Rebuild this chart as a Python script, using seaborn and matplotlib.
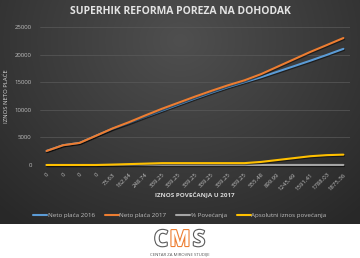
import numpy as np
import pandas as pd
import matplotlib
matplotlib.use("Agg")
import matplotlib.pyplot as plt
import matplotlib.patheffects as pe
import seaborn as sns
from matplotlib.lines import Line2D

# ---- data ----
x_labels = ["0", "0", "0", "0", "73.63", "162.84", "248.74", "339.25", "339.25",
            "339.25", "339.25", "339.25", "339.25", "555.48", "899.99", "1245.49",
            "1591.41", "1788.03", "1875.36"]
neto_2016 = [2545, 3580, 4000, 5300, 6550, 7600, 8750, 9850, 10950, 12050,
             13100, 14100, 15000, 15900, 16900, 17900, 18900, 19950, 21040]
neto_2017 = [2545, 3580, 4000, 5300, 6624, 7763, 8999, 10189, 11289, 12389,
             13439, 14439, 15339, 16455, 17800, 19145, 20491, 21738, 23000]
pct_increase = [0, 0, 0, 0, 1.1, 2.1, 2.8, 3.4, 3.1, 2.8, 2.6, 2.4, 2.3, 3.5,
                5.3, 7.0, 8.4, 9.0, 8.9]
abs_increase = [0, 0, 0, 0, 73.63, 162.84, 248.74, 339.25, 339.25, 339.25, 339.25,
                339.25, 339.25, 555.48, 899.99, 1245.49, 1591.41, 1788.03, 1875.36]
series_names = ["Neto plaća 2016", "Neto plaća 2017", "% Povećanja",
                "Apsolutni iznos povećanja"]
colors = ["#5b9bd5", "#ed7d31", "#a5a5a5", "#ffc000"]

idx = list(range(len(x_labels)))
df = pd.concat([
    pd.DataFrame({"i": idx, "v": vals, "s": name})
    for name, vals in zip(series_names, [neto_2016, neto_2017, pct_increase, abs_increase])
])

sns.set_style("white")
plt.rcParams["font.family"] = ["Open Sans", "DejaVu Sans"]

W, H = 360, 258
fig = plt.figure(figsize=(W / 100, H / 100), dpi=100)
fig.patch.set_facecolor("white")

# background gradient (dark chart area)
bg = fig.add_axes([0, 1 - 224 / H, 1, 224 / H])
yy, xx = np.mgrid[0:224, 0:360]
d = np.sqrt(((xx - 180) / 260.0) ** 2 + ((yy - 40) / 230.0) ** 2)
val = 0.31 - 0.15 * np.clip(d, 0, 1)
img = np.dstack([val, val, val])
bg.imshow(img, aspect="auto", extent=[0, 1, 0, 1], origin="upper")
bg.set_axis_off()

ax = fig.add_axes([40 / W, 1 - 165 / H, 310 / W, 138 / H])
ax.patch.set_alpha(0)
sns.lineplot(data=df, x="i", y="v", hue="s", palette=colors, hue_order=series_names,
             linewidth=1.5, ax=ax, legend=False)
for ln in ax.get_lines():
    ln.set_clip_on(False)
    ln.set_path_effects([pe.SimpleLineShadow(offset=(0.5, -0.8), shadow_color="black", alpha=0.5),
                         pe.Normal()])
lines = ax.get_lines()
lines[3].set_zorder(5)

ax.set_xlim(-0.4, 18.4)
ax.set_ylim(0, 25000)
ax.set_yticks(range(0, 25001, 5000))
ax.set_xticks(idx)
ax.set_xticklabels(x_labels, rotation=45, ha="right", rotation_mode="anchor",
                   fontsize=4.3, color="#bfbfbf")
ax.tick_params(axis="y", labelsize=4.3, labelcolor="#bfbfbf", length=0, pad=6)
ax.tick_params(axis="x", length=0, pad=5)
ax.grid(axis="y", color="#5a5a5a", linewidth=0.5)
ax.grid(axis="x", visible=False)
for s in ax.spines.values():
    s.set_visible(False)
ax.set_xlabel("IZNOS POVEĆANJA U 2017", fontsize=4.5, color="#d9d9d9",
              fontweight="bold")
ax.set_ylabel("IZNOS NETO PLAĆE", fontsize=4.2, color="#d9d9d9")
ax.xaxis.set_label_coords(0.5, -0.19)
ax.yaxis.set_label_coords(-0.1, 0.5)

fig.text(0.5, 1 - 12 / H, "SUPERHIK REFORMA POREZA NA DOHODAK",
         ha="center", va="center", fontsize=7.5, fontweight="bold", color="#e3e3e3")

# legend
handles = [Line2D([0], [0], color=c, lw=1.5) for c in colors]
fig.legend(handles, series_names, loc="center", bbox_to_anchor=(0.5, 1 - 215 / H),
           ncol=4, frameon=False, fontsize=4.5, handlelength=2.2, columnspacing=1.6,
           handletextpad=0.1, labelcolor="#bfbfbf")

# logo
logo_y = 1 - 238 / H
logo_fx = [pe.withStroke(linewidth=1.6, foreground="#5a5a5a")]
fig.text(0.5 - 19 / W, logo_y, "C", ha="center", va="center_baseline", fontsize=16,
         fontweight="bold", color="white", path_effects=logo_fx)
fig.text(0.5, logo_y, "M", ha="center", va="center_baseline", fontsize=16,
         fontweight="bold", color="white",
         path_effects=[pe.withStroke(linewidth=1.6, foreground="#ed7d31")])
fig.text(0.5 + 19 / W, logo_y, "S", ha="center", va="center_baseline", fontsize=16,
         fontweight="bold", color="white", path_effects=logo_fx)
fig.text(0.5, 1 - 254 / H, "CENTAR ZA MIROVNE STUDIJE", ha="center", va="center",
         fontsize=3.2, color="#555555")

fig.savefig("out.png", dpi=100)
